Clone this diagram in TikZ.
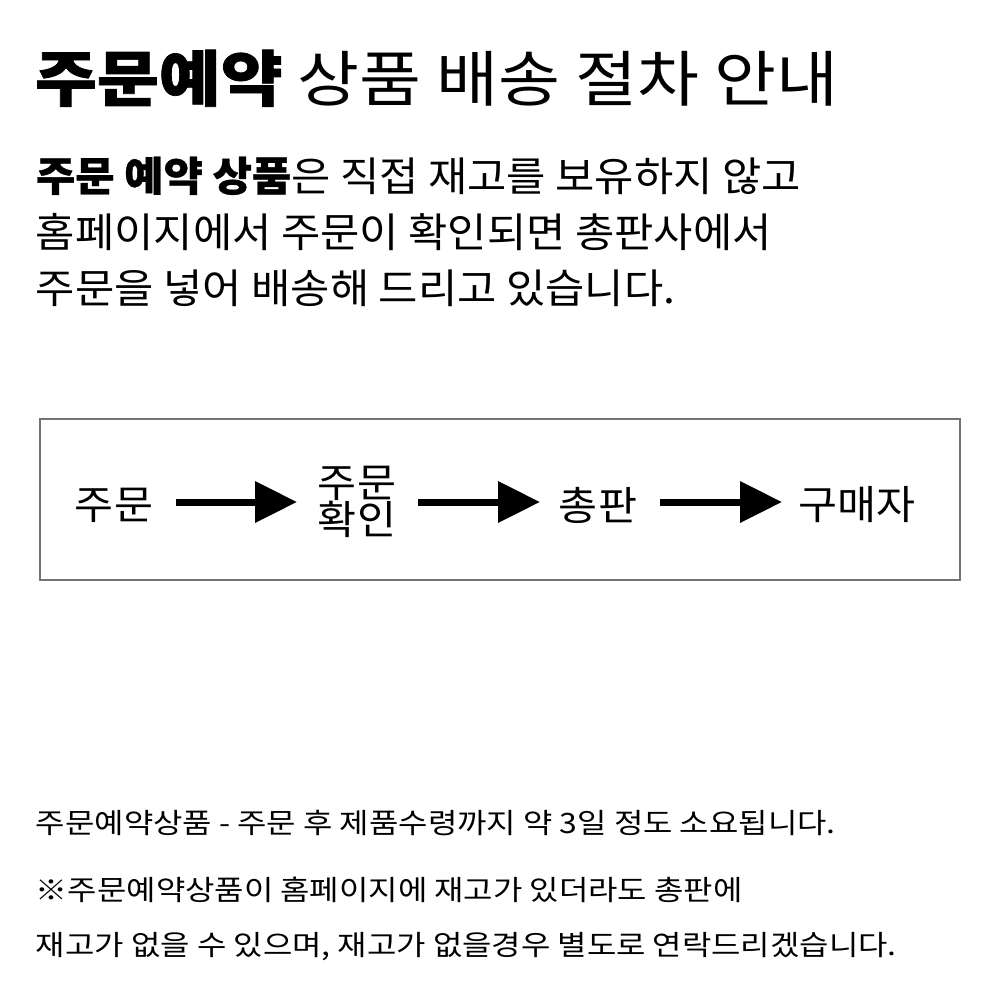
\documentclass[tikz,border=0pt]{standalone}
\usepackage{fontspec}
\usetikzlibrary{arrows.meta}
\setmainfont{Noto Sans CJK KR}
\newfontfamily\titlefont{Noto Sans CJK KR}[FakeStretch=1.11, BoldFeatures={FakeBold=1.2}]
\newfontfamily\parafont{Noto Sans CJK KR}[FakeStretch=1.05, BoldFeatures={FakeBold=0.8}]
\newfontfamily\flowfont{Noto Sans CJK KR}[FakeStretch=1.06]
\newfontfamily\notefont{Noto Sans CJK KR}[FakeStretch=1.14]
\begin{document}
\begin{tikzpicture}[x=0.75pt,y=-0.75pt,
  txt/.style={inner sep=0pt, outer sep=0pt, anchor=base west},
  ttl/.style={txt, font=\titlefont\fontsize{45.5pt}{50pt}\selectfont},
  para/.style={txt, font=\parafont\fontsize{30.5pt}{42pt}\selectfont},
  flow/.style={inner sep=0pt, outer sep=0pt, align=center, font=\flowfont\fontsize{30pt}{28pt}\selectfont},
  note/.style={txt, font=\notefont\fontsize{21pt}{30pt}\selectfont},
  flowarrow/.style={line width=5.25pt, -{Triangle[length=31.5pt,width=30pt]}},
  frame/.style={draw=black!55, line width=1pt, minimum width=690pt, minimum height=120.75pt, inner sep=0pt}
]
\useasboundingbox (0,0) rectangle (1000,1000);
\fill[white] (0,0) rectangle (1000,1000);
\node[ttl] (title) at (35,101) {\textbf{주문예약} 상품 배송 절차 안내};
\node[para] (p1) at (36,191) {\textbf{주문 예약 상품}은 직접 재고를 보유하지 않고};
\node[para] (p2) at (36,247) {홈페이지에서 주문이 확인되면 총판사에서};
\node[para] (p3) at (36,303) {주문을 넣어 배송해 드리고 있습니다.};
\node[frame] (box) at (500,499.5) {};
\node[flow] (f1) at (114,505) {주문};
\node[flow] (f2) at (357,502) {주문\\확인};
\node[flow] (f3) at (598,505) {총판};
\node[flow] (f4) at (857,505) {구매자};
\coordinate (a1s) at (176,502); \coordinate (a1e) at (297,502);
\coordinate (a2s) at (418,502); \coordinate (a2e) at (540,502);
\coordinate (a3s) at (660,502); \coordinate (a3e) at (782,502);
\draw[flowarrow] (a1s) -- (a1e);
\draw[flowarrow] (a2s) -- (a2e);
\draw[flowarrow] (a3s) -- (a3e);
\node[note] (n1) at (36,833) {주문예약상품 - 주문 후 제품수령까지 약 3일 정도 소요됩니다.};
\node[note] (n2) at (36,900) {※주문예약상품이 홈페이지에 재고가 있더라도 총판에};
\node[note] (n3) at (36,955) {재고가 없을 수 있으며, 재고가 없을경우 별도로 연락드리겠습니다.};
\end{tikzpicture}
\end{document}
